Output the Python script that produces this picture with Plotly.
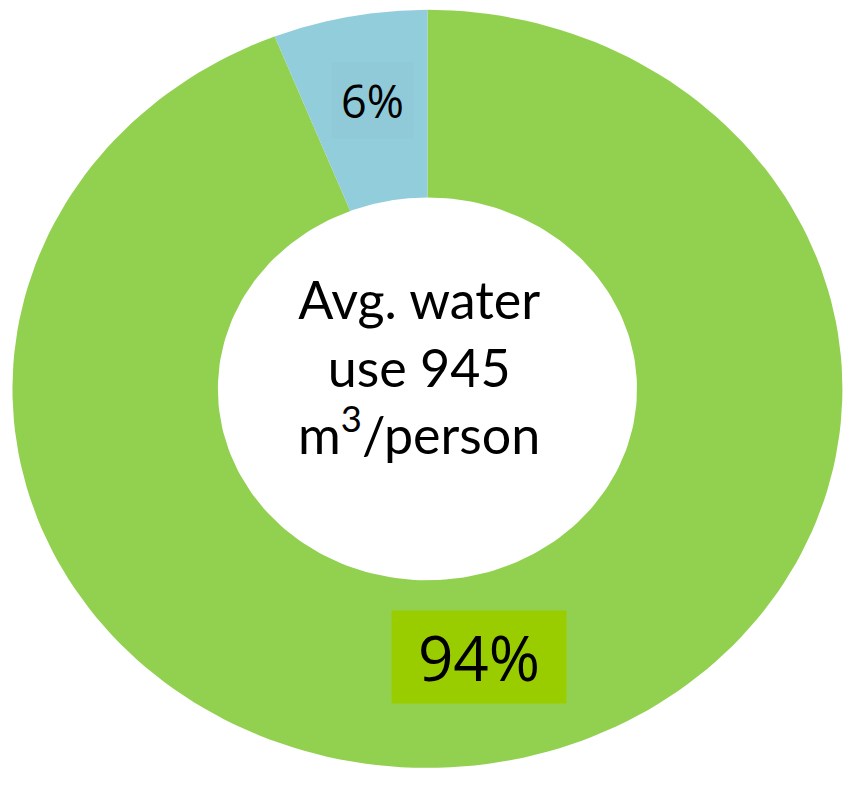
import numpy as np
import plotly.graph_objects as go

# Share of average water use per person
labels = ["Other", "Main use"]
shares = [6, 94]
label_text = ["6%", "94%"]
colors = ["#92CDDC", "#92D050"]
center_text = "Avg. water<br>use 945<br>m<sup>3</sup>/person"

HOLE = 0.505

fig = go.Figure()

# Donut wedges, drawn clockwise from 12 o'clock; the larger slice first so the
# small one sits just left of the top.
order = [1, 0]
start = 0.0
total = float(sum(shares))
mid_angles = {}
for i in order:
    span = shares[i] / total * 360.0
    th = np.radians(np.linspace(start, start + span, 200))
    xo, yo = np.sin(th), np.cos(th)
    xi, yi = HOLE * np.sin(th[::-1]), HOLE * np.cos(th[::-1])
    fig.add_trace(go.Scatter(
        x=np.concatenate([xo, xi, xo[:1]]),
        y=np.concatenate([yo, yi, yo[:1]]),
        fill="toself", fillcolor=colors[i], mode="lines",
        line=dict(width=0, color=colors[i]), hoverinfo="skip", showlegend=False,
        name=labels[i],
    ))
    mid_angles[i] = np.radians(start + span / 2)
    start += span

# Percentage labels at each slice's mid-angle, each on its own box
label_r = {0: 0.77, 1: 0.72}
label_size = {0: 45, 1: 62}
label_bg = {0: "#90CAD8", 1: "#9ACD00"}
label_box = {0: (81, 75), 1: (174, 92)}
label_shift = {0: (5, 2), 1: (-4, 0)}
for i in (0, 1):
    a = mid_angles[i]
    w, h = label_box[i]
    dx, dy = label_shift[i]
    fig.add_annotation(
        x=label_r[i] * np.sin(a), y=label_r[i] * np.cos(a),
        xshift=dx, yshift=dy,
        text=label_text[i], showarrow=False,
        font=dict(family="Open Sans", size=label_size[i], color="black"),
        bgcolor=label_bg[i], borderpad=0, width=w, height=h,
        align="center", valign="middle",
    )

fig.add_annotation(
    x=-0.02, y=0.06, text=center_text, showarrow=False,
    font=dict(family="Lato", size=52, color="black"),
)

fig.update_layout(
    width=864, height=799,
    margin=dict(l=0, r=0, t=0, b=0),
    paper_bgcolor="white", plot_bgcolor="white",
    xaxis=dict(range=[-1.030, 1.052], visible=False, fixedrange=True),
    yaxis=dict(range=[-1.082, 1.026], visible=False, fixedrange=True),
)

fig.write_html("out.html")
